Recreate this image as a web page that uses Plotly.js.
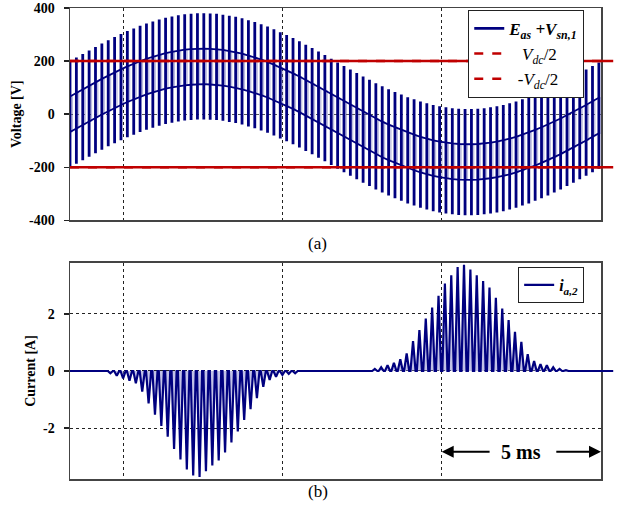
<!DOCTYPE html>
<html><head><meta charset="utf-8">
<script src="https://cdn.plot.ly/plotly-3.0.1.min.js"></script>
<style>html,body{margin:0;padding:0;background:#fff}#chart{width:623px;height:511px}</style>
</head><body><div id="chart"></div>
<script>
// ---------- data ----------
const timeRangeMs = [-1.667, 15];
const gridTimesMs = [0, 5, 10];
const firstBarTimeMs = -1.667;
const switchPeriodMs = 0.2;
// E_as value (V) at each switching bar
const easAtBar = [0,14,27,40,53,66,79,91,102,113,
  123,133,142,149,157,163,168,173,176,178,
  180,180,179,178,175,171,167,161,154,147,
  139,130,120,109,98,87,75,62,49,36,
  23,9,-5,-18,-32,-45,-58,-70,-83,-95,
  -106,-116,-126,-136,-144,-152,-159,-165,-170,-174,
  -177,-179,-180,-180,-179,-177,-174,-170,-165,-159,
  -152,-144,-136,-126,-116,-106,-95,-83,-70,-58,
  -45,-32,-18,-5];
// V_sn,1 levels (V): top, upper-middle, lower-middle, bottom
const vsnLevels = [200, 67, -67, -200];
const vdcHalf = [200, -200];
const voltageTicks = [-400, -200, 0, 200, 400];
const voltageTickText = ['-400', '-200', '0', '200', '400'];
const currentTicks = [-2, 0, 2];
const currentTickText = ['-2', '0', '2'];
const negPulseStartMs = -0.4;
const negPulsePeaks = [-0.08,-0.17,-0.26,-0.34,-0.43,-0.72,-1.13,-1.53,-1.92,-2.3,
  -2.73,-3.1,-3.45,-3.66,-3.71,-3.51,-3.31,-3.13,-2.85,-2.5,
  -2.12,-1.71,-1.34,-0.95,-0.55,-0.31,-0.2,-0.14,-0.1,-0.08];
const posPulseStartMs = 7.9;
const posPulsePeaks = [0.07,0.13,0.2,0.29,0.41,0.62,1.05,1.43,1.84,2.22,
  2.63,3.06,3.35,3.64,3.72,3.55,3.35,3.15,2.92,2.56,
  2.19,1.78,1.37,1.02,0.59,0.35,0.24,0.2,0.13,0.07,0.03];
const scaleBarMs = [10, 15];
const scaleBarTextMs = 12.5;
const scaleBarLevelA = -2.83;

// ---------- build traces ----------
const NAVY = '#00007f';
const RED = '#c00000';
const SERIF = 'Liberation Serif, Times New Roman, serif';

const barX = [], barY = [], hiX = [], hiY = [], loX = [], loY = [], rectX = [], rectY = [];
easAtBar.forEach((e, k) => {
  const t = firstBarTimeMs + k * switchPeriodMs;
  const top = e + vsnLevels[0], hi = e + vsnLevels[1], lo = e + vsnLevels[2], bot = e + vsnLevels[3];
  barX.push(t, t, null); barY.push(bot, top, null);
  hiX.push(t); hiY.push(hi); loX.push(t); loY.push(lo);
  const tr = t + 0.4 * switchPeriodMs;
  rectX.push(t, tr, tr, t, t, null); rectY.push(hi, hi, lo, lo, hi, null);
});

const curX = [timeRangeMs[0]], curY = [0];
function addPulses(start, peaks) {
  peaks.forEach((p, i) => {
    const t = start + i * switchPeriodMs;
    curX.push(t - 0.08, t, t + 0.08); curY.push(0, p, 0);
  });
}
addPulses(negPulseStartMs, negPulsePeaks);
addPulses(posPulseStartMs, posPulsePeaks);
curX.push(timeRangeMs[1]); curY.push(0);

const traces = [
  {x: rectX, y: rectY, mode: 'lines', fill: 'toself', fillcolor: 'rgba(140,140,210,0.35)',
   line: {color: 'rgba(0,0,127,0.35)', width: 0.6}, showlegend: false, hoverinfo: 'skip'},
  {x: hiX, y: hiY, mode: 'lines', line: {color: NAVY, width: 1.8}, showlegend: false, hoverinfo: 'skip'},
  {x: loX, y: loY, mode: 'lines', line: {color: NAVY, width: 1.8}, showlegend: false, hoverinfo: 'skip'},
  {x: barX, y: barY, mode: 'lines', line: {color: NAVY, width: 2.8}, connectgaps: false,
   name: '<b><i>E<sub>as</sub> +V<sub>sn,1</sub></i></b>', legend: 'legend'},
  {x: timeRangeMs, y: [vdcHalf[0], vdcHalf[0]], mode: 'lines', line: {color: RED, width: 2.5, dash: 'dash'},
   name: '&nbsp;&nbsp;&nbsp;<i>V<sub>dc</sub></i>/2', legend: 'legend'},
  {x: timeRangeMs, y: [vdcHalf[1], vdcHalf[1]], mode: 'lines', line: {color: RED, width: 2.5, dash: 'dash'},
   name: '&nbsp;&nbsp;-<i>V<sub>dc</sub></i>/2', legend: 'legend'},
  {x: curX, y: curY, xaxis: 'x2', yaxis: 'y2', mode: 'none',
   fill: 'tozeroy', fillcolor: 'rgba(120,120,205,0.45)', showlegend: false, hoverinfo: 'skip'},
  {x: curX, y: curY, xaxis: 'x2', yaxis: 'y2', mode: 'lines', line: {color: NAVY, width: 2.2},
   name: '<b><i>i<sub>a,2</sub></i></b>', legend: 'legend2'}
];

const frame = {showline: true, mirror: true, linecolor: '#444', linewidth: 1.5, zeroline: false};
const xBase = Object.assign({range: timeRangeMs, tickvals: gridTimesMs, showticklabels: false, ticks: '',
  showgrid: true, gridcolor: '#222', griddash: 'dot', gridwidth: 1}, frame);
const yTickFont = {family: SERIF, size: 14, weight: 'bold', color: '#000'};
const yTitleFont = {family: SERIF, size: 14, weight: 'bold', color: '#000'};

// plot area: top panel y 8..222 px, bottom panel y 263..479 px (figure 511 px tall)
const layout = {
  width: 623, height: 511, autosize: false,
  margin: {l: 70, r: 22, t: 8, b: 32},
  paper_bgcolor: '#fff', plot_bgcolor: '#fff',
  xaxis: Object.assign({}, xBase, {anchor: 'y'}),
  xaxis2: Object.assign({}, xBase, {anchor: 'y2'}),
  yaxis: Object.assign({domain: [0.5489, 1], range: [-400, 400], tickvals: voltageTicks, ticktext: voltageTickText,
    ticks: 'outside', ticklen: 5, tickwidth: 1.5, tickcolor: '#222', tickfont: yTickFont, ticklabelstandoff: 6,
    ticklabeloverflow: 'allow',
    showgrid: true, gridcolor: '#555', griddash: 'dot', gridwidth: 1,
    title: {text: 'Voltage [V]', font: yTitleFont, standoff: 4}, anchor: 'x'}, frame),
  yaxis2: Object.assign({domain: [0, 0.4586], range: [-3.78, 3.78], tickvals: currentTicks, ticktext: currentTickText,
    ticks: 'outside', ticklen: 5, tickwidth: 1.5, tickcolor: '#222', tickfont: yTickFont, ticklabelstandoff: 6,
    ticklabeloverflow: 'allow',
    showgrid: true, gridcolor: '#222', griddash: 'dot', gridwidth: 1,
    title: {text: 'Current [A]', font: yTitleFont, standoff: 4}, anchor: 'x2'}, frame),
  legend: {x: 0.75, y: 0.996, xanchor: 'left', yanchor: 'top', bgcolor: '#fff', bordercolor: '#222', borderwidth: 1,
    font: {family: SERIF, size: 17, color: '#000'}, itemwidth: 30, tracegroupgap: 0},
  legend2: {x: 0.844, y: 0.45, xanchor: 'left', yanchor: 'top', bgcolor: '#fff', bordercolor: '#222', borderwidth: 1,
    font: {family: SERIF, size: 16, color: '#000'}, itemwidth: 30},
  shapes: [
    {type: 'line', xref: 'paper', yref: 'y', x0: 0, x1: 1.023, y0: vdcHalf[0], y1: vdcHalf[0], line: {color: RED, width: 2.5}, layer: 'above'},
    {type: 'line', xref: 'paper', yref: 'y', x0: 0, x1: 1.023, y0: vdcHalf[1], y1: vdcHalf[1], line: {color: RED, width: 2.5}, layer: 'above'},
    {type: 'line', xref: 'paper', yref: 'y2', x0: 1, x1: 1.023, y0: 0, y1: 0, line: {color: NAVY, width: 2}, layer: 'above'}
  ],
  annotations: [
    {xref: 'paper', yref: 'paper', x: 0.467, y: 0.5, yanchor: 'middle', text: '(a)', showarrow: false, font: {family: SERIF, size: 17, color: '#000'}},
    {xref: 'paper', yref: 'paper', x: 0.467, y: -0.026, yanchor: 'middle', text: '(b)', showarrow: false, font: {family: SERIF, size: 17, color: '#000'}},
    {xref: 'x2', yref: 'y2', axref: 'x2', ayref: 'y2', x: scaleBarMs[0], y: scaleBarLevelA, ax: 11.55, ay: scaleBarLevelA,
     text: '', showarrow: true, arrowhead: 2, arrowsize: 1.2, arrowwidth: 2, arrowcolor: '#000'},
    {xref: 'x2', yref: 'y2', axref: 'x2', ayref: 'y2', x: scaleBarMs[1], y: scaleBarLevelA, ax: 13.55, ay: scaleBarLevelA,
     text: '', showarrow: true, arrowhead: 2, arrowsize: 1.2, arrowwidth: 2, arrowcolor: '#000'},
    {xref: 'x2', yref: 'y2', x: scaleBarTextMs, y: scaleBarLevelA, text: '<b>5 ms</b>', showarrow: false,
     font: {family: SERIF, size: 20, color: '#000'}}
  ]
};

Plotly.newPlot('chart', traces, layout, {staticPlot: true, displayModeBar: false});
</script>
</body></html>
